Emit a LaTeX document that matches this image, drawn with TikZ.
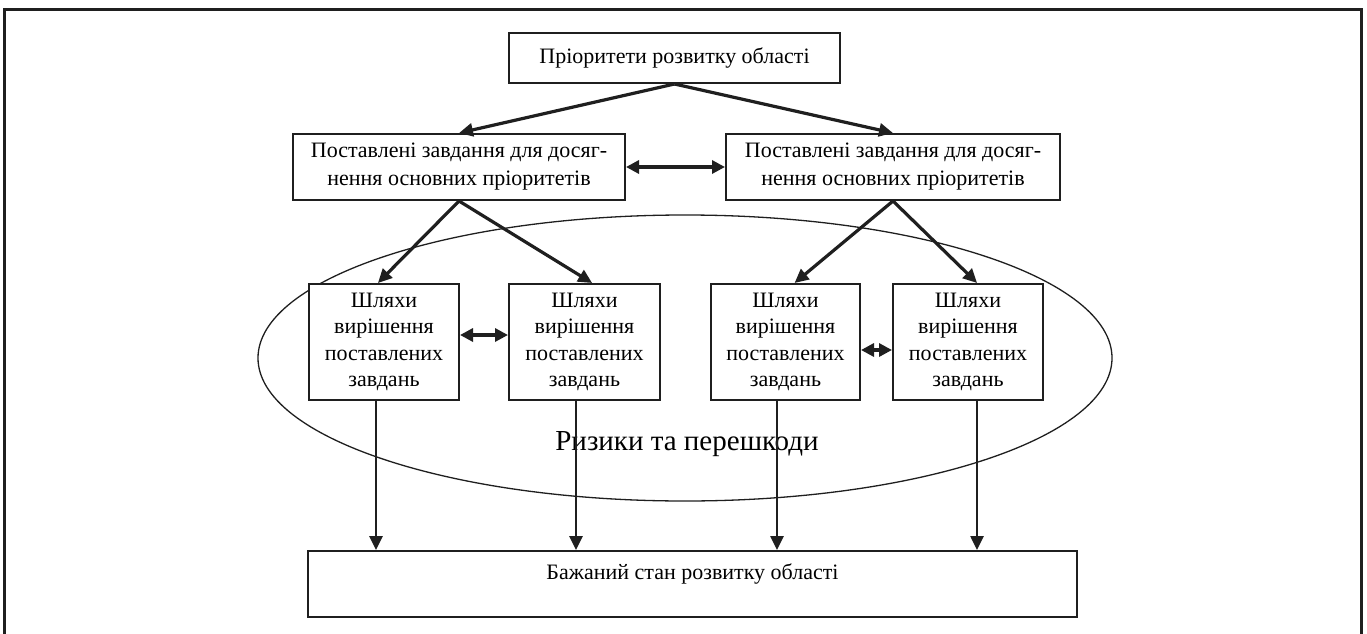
\documentclass[tikz,border=0pt]{standalone}
\usepackage{fontspec}
\setmainfont{Liberation Serif}
\usetikzlibrary{arrows.meta,calc}
\begin{document}
\begin{tikzpicture}[x=1pt,y=-1pt,
  ink/.style={black!88},
  box/.style={ink, draw, line width=2pt, fill=white, rectangle, align=center,
    inner sep=0pt, text=black, font=\fontsize{22}{28}\selectfont},
  pathbox/.style={box, minimum width=150, minimum height=116,
    font=\fontsize{22}{26.5}\selectfont},
  link/.style={ink, line width=3.2pt, -{Triangle[length=14pt,width=13pt]}},
  both/.style={ink, line width=3.2pt,
    {Triangle[length=13pt,width=13pt]}-{Triangle[length=13pt,width=13pt]}},
  drop/.style={link, line width=2.6pt},
]
\useasboundingbox (0,0) rectangle (1367,634);

% outer frame, open at the bottom
\draw[ink, line width=3pt] (4,660) -- (4,10) -- (1361,10) -- (1361,660);

% risk zone
\draw[ink, line width=1.3pt] (685,358) ellipse [x radius=427, y radius=143];
\node[font=\fontsize{29}{32}\selectfont] (risk) at (687,444) {Ризики та перешкоди};

% priorities and tasks
\node[box, minimum width=331, minimum height=50] (top) at (674.5,58)
  {Пріоритети розвитку області};
\node[box, minimum width=332, minimum height=66] (ml) at (459,167)
  {Поставлені завдання для досяг-\\нення основних пріоритетів};
\node[box, minimum width=334, minimum height=66] (mr) at (893,167)
  {Поставлені завдання для досяг-\\нення основних пріоритетів};

% ways of solving the tasks
\node[pathbox] (b1) at (384,342) {Шляхи\\вирішення\\поставлених\\завдань};
\node[pathbox, minimum width=151] (b2) at (584.5,342) {Шляхи\\вирішення\\поставлених\\завдань};
\node[pathbox, minimum width=149] (b3) at (785.5,342) {Шляхи\\вирішення\\поставлених\\завдань};
\node[pathbox] (b4) at (968,342) {Шляхи\\вирішення\\поставлених\\завдань};

% desired state
\node[box, minimum width=769, minimum height=66, text height=15pt, text depth=25pt]
  (goal) at (692.5,584) {Бажаний стан розвитку області};

% connectors between levels
\draw[link] (top.south) -- (ml.north);
\draw[link] (top.south) -- (mr.north);
\draw[both] (ml.east) -- (mr.west);

\draw[link] (ml.south) -- ($(b1.north west)!0.46!(b1.north east)$);
\draw[link] (ml.south) -- ($(b2.north west)!0.55!(b2.north east)$);
\draw[link] (mr.south) -- ($(b3.north west)!0.56!(b3.north east)$);
\draw[link] (mr.south) -- ($(b4.north west)!0.56!(b4.north east)$);

\draw[both] ([yshift=7pt]b1.east) -- ([yshift=7pt]b2.west);
\draw[both] ([yshift=-8pt]b3.east) -- ([yshift=-8pt]b4.west);

\coordinate (v1) at (376,0);
\coordinate (v2) at (576,0);
\coordinate (v3) at (777,0);
\coordinate (v4) at (977,0);
\draw[drop] (b1.south -| v1) -- (goal.north -| v1);
\draw[drop] (b2.south -| v2) -- (goal.north -| v2);
\draw[drop] (b3.south -| v3) -- (goal.north -| v3);
\draw[drop] (b4.south -| v4) -- (goal.north -| v4);
\end{tikzpicture}
\end{document}
